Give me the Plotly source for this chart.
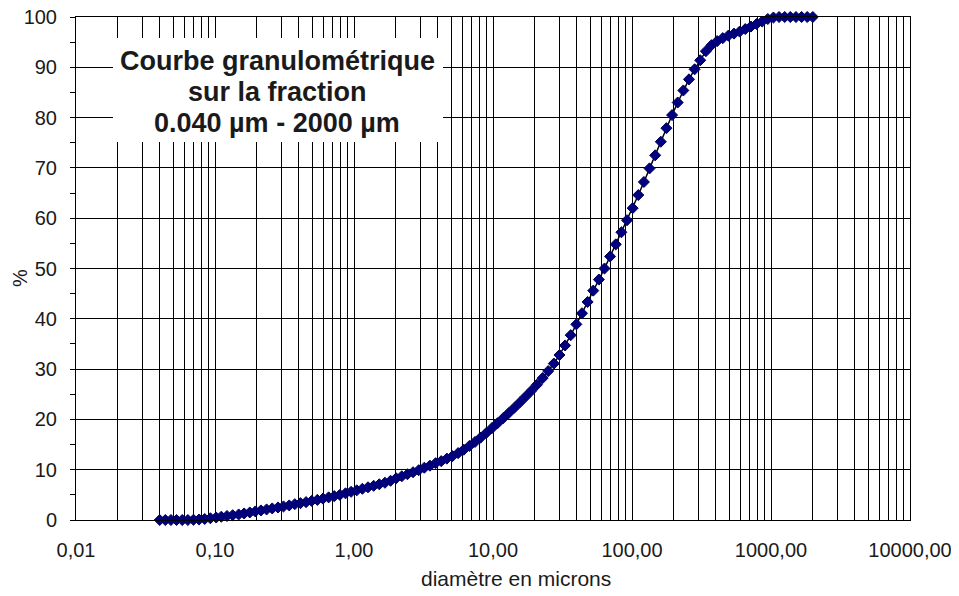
import plotly.graph_objects as go

# Particle diameters (µm) – laser granulometer channels 0.040 – 2000 µm
diametre = [
    0.04, 0.0439, 0.0482, 0.0529, 0.0581, 0.0638, 0.07, 0.0768, 0.0843, 0.0926,
    0.102, 0.111, 0.122, 0.134, 0.148, 0.162, 0.178, 0.195, 0.214, 0.235,
    0.258, 0.284, 0.311, 0.342, 0.375, 0.412, 0.452, 0.496, 0.545, 0.598,
    0.657, 0.721, 0.791, 0.869, 0.953, 1.047, 1.149, 1.261, 1.385, 1.520,
    1.669, 1.832, 2.011, 2.208, 2.423, 2.660, 2.920, 3.206, 3.519, 3.863,
    4.241, 4.656, 5.111, 5.611, 6.159, 6.761, 7.422, 8.148, 8.944, 9.819,
    10.78, 11.83, 12.99, 14.26, 15.65, 17.18, 18.86, 20.71, 22.73, 24.95,
    27.39, 30.07, 33.01, 36.24, 39.78, 43.67, 47.94, 52.62, 57.77, 63.41,
    69.61, 76.42, 83.89, 92.09, 101.1, 111.0, 121.8, 133.7, 146.8, 161.2,
    176.9, 194.2, 213.2, 234.1, 256.9, 282.1, 309.6, 339.9, 373.1, 409.6,
    449.7, 493.6, 541.9, 594.9, 653.0, 716.9, 786.9, 863.9, 948.3, 1041,
    1143, 1255, 1377, 1512, 1660, 1822, 2000,
]

# Cumulative passing (%)
cumul = [
    0.0, 0.0, 0.0, 0.0, 0.0, 0.0, 0.05, 0.1, 0.2, 0.35,
    0.5, 0.65, 0.8, 0.95, 1.1, 1.3, 1.5, 1.7, 1.9, 2.1,
    2.3, 2.5, 2.7, 2.9, 3.15, 3.35, 3.55, 3.8, 4.0, 4.25,
    4.5, 4.75, 5.0, 5.3, 5.6, 5.9, 6.2, 6.5, 6.8, 7.1,
    7.4, 7.8, 8.3, 8.7, 9.1, 9.5, 9.9, 10.4, 10.8, 11.3,
    11.7, 12.2, 12.7, 13.3, 13.98, 14.72, 15.52, 16.38, 17.3, 18.26,
    19.24, 20.24, 21.27, 22.33, 23.42, 24.54, 25.69, 26.9, 28.2, 29.6,
    31.1, 32.8, 34.7, 36.75, 38.9, 41.1, 43.35, 45.6, 47.8, 50.0,
    52.4, 54.8, 57.2, 59.6, 62.0, 64.6, 67.2, 69.9, 72.5, 75.2,
    77.9, 80.5, 83.0, 85.4, 87.6, 89.6, 91.4, 93.2, 94.4, 95.2,
    95.8, 96.3, 96.7, 97.1, 97.6, 98.1, 98.6, 99.1, 99.6, 99.9,
    100.0, 100.0, 100.0, 100.0, 100.0, 100.0, 100.0,
]

x_tickvals = [0.01, 0.1, 1, 10, 100, 1000, 10000]
x_ticktext = ["0,01", "0,10", "1,00", "10,00", "100,00", "1000,00", "10000,00"]
x_minor = [m * d for d in [0.01, 0.1, 1, 10, 100, 1000] for m in range(2, 10)]
y_tickvals = [0, 10, 20, 30, 40, 50, 60, 70, 80, 90, 100]

title_lines = ["Courbe granulométrique", "sur la fraction", "0.040 µm - 2000 µm"]
x_title = "diamètre en microns"
y_title = "%"

FONT = "Liberation Sans, Arial, sans-serif"
TXT = "#1a1a1a"

fig = go.Figure()
fig.add_trace(go.Scatter(
    x=diametre, y=cumul, mode="lines+markers",
    line=dict(color="black", width=1.5),
    marker=dict(symbol="diamond", size=8.5, color="#000080",
                line=dict(color="#00005a", width=1)),
    cliponaxis=False, showlegend=False, hoverinfo="x+y",
))

# page offset (default body margin of the html page)
OFF = 8
W, H = 959 - OFF, 596 - OFF
# plot area in page pixels: x 76..910, y 17..520
PL, PR, PT, PB = 76, 910, 17, 520
L, R, T, B = PL - OFF, W - (PR - OFF), PT - OFF, H - (PB - OFF)
pw, ph = PR - PL, PB - PT

def px_x(p):
    return (p - PL) / pw

def px_y(p):
    return (PB - p) / ph

fig.update_layout(
    width=W, height=H,
    margin=dict(l=L, r=R, t=T, b=B, autoexpand=False),
    paper_bgcolor="white", plot_bgcolor="white",
    font=dict(family=FONT, size=20, color=TXT),
    xaxis=dict(
        type="log", range=[-2, 4], automargin=False,
        tickmode="array", tickvals=x_tickvals, ticktext=x_ticktext,
        showgrid=True, gridcolor="black", gridwidth=1,
        ticks="outside", ticklen=0, tickcolor="black",
        ticklabelstandoff=12, ticklabeloverflow="allow",
        tickfont=dict(size=20, color=TXT, family=FONT),
        minor=dict(tickmode="array", tickvals=x_minor, showgrid=True,
                   gridcolor="black", gridwidth=1, ticks=""),
        showline=True, linecolor="black", linewidth=1, mirror=True,
        zeroline=False,
    ),
    yaxis=dict(
        range=[0, 100], automargin=False,
        tickmode="array", tickvals=y_tickvals,
        showgrid=True, gridcolor="black", gridwidth=1,
        ticks="outside", ticklen=5, tickcolor="black", tickwidth=1,
        ticklabelstandoff=9, ticklabeloverflow="allow",
        tickfont=dict(size=20, color=TXT, family=FONT),
        minor=dict(dtick=5, tick0=5, ticks="outside", ticklen=5,
                   tickcolor="black", showgrid=False),
        showline=True, linecolor="black", linewidth=1, mirror=True,
        zeroline=False,
    ),
)

# White box behind the title text
fig.add_shape(type="rect", xref="x domain", yref="y domain",
              x0=px_x(113), x1=px_x(443), y0=px_y(142), y1=px_y(38),
              fillcolor="white", line=dict(width=0), layer="above")

for txt, yc in zip(title_lines, [61, 92, 123]):
    fig.add_annotation(text="<b>" + txt + "</b>", xref="x domain", yref="y domain",
                       x=px_x(277), y=px_y(yc), showarrow=False,
                       xanchor="center", yanchor="middle",
                       font=dict(size=27, color=TXT, family=FONT))

fig.add_annotation(text=x_title, xref="paper", yref="paper",
                   x=px_x(516), y=px_y(578),
                   showarrow=False, xanchor="center", yanchor="middle",
                   font=dict(size=21, color=TXT, family=FONT))
fig.add_annotation(text=y_title, xref="paper", yref="paper",
                   x=px_x(20), y=px_y(278), textangle=-90,
                   showarrow=False, xanchor="center", yanchor="middle",
                   font=dict(size=20, color=TXT, family=FONT))

fig.write_html("out.html")
